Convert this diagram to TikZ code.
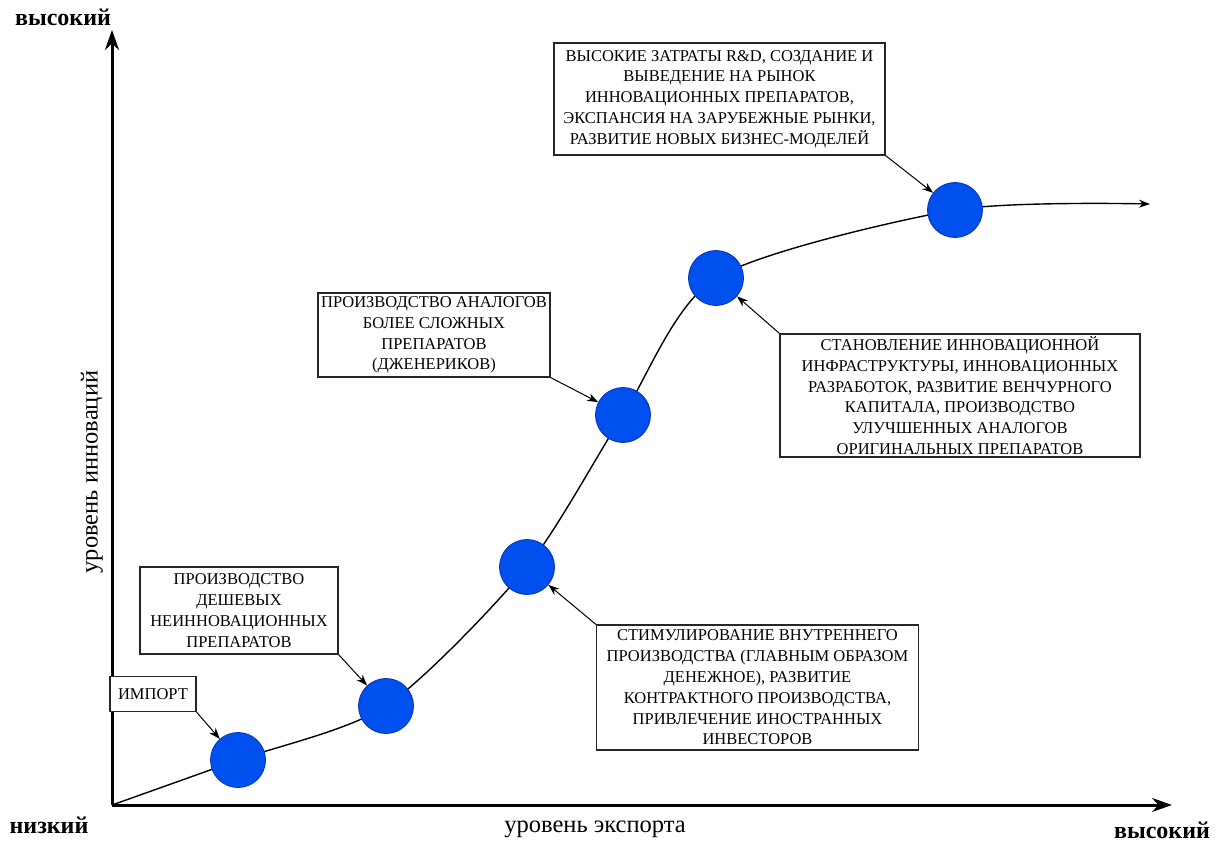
\documentclass[tikz,border=0pt]{standalone}
\usepackage{fontspec}
\setmainfont{Liberation Serif}
\usetikzlibrary{arrows.meta}
\definecolor{dotblue}{RGB}{0,80,239}
\definecolor{dotedge}{RGB}{0,50,170}
\begin{document}
\begin{tikzpicture}[x=1pt,y=-1pt,
  dot/.style={circle,fill=dotblue,draw=dotedge,line width=0.8pt,minimum size=55pt,inner sep=0pt},
  tbox/.style={draw=black!85,line width=1.1pt,fill=white,align=center,inner sep=0pt,
    font=\fontsize{16.5}{20.8}\selectfont},
  pointer/.style={-{Stealth[length=11pt,width=8pt]},line width=1pt},
  axis/.style={line width=3pt,-{Stealth[length=20pt,width=14pt]}},
  axlabel/.style={font=\fontsize{24.5}{26}\selectfont},
  endlabel/.style={font=\bfseries\fontsize{24}{26}\selectfont}]
\useasboundingbox (0,0) rectangle (1224,845);
% axes
\coordinate (o) at (112,805);
\coordinate (ytip) at (112,30);
\coordinate (xtip) at (1172,805);
\draw[axis] (o) -- (ytip);
\draw[axis] (o) -- (xtip);
% dots positions
\coordinate (p1) at (238,760);
\coordinate (p2) at (386,706);
\coordinate (p3) at (527,567);
\coordinate (p4) at (623,415);
\coordinate (p5) at (716,278);
\coordinate (p6) at (955,210);
\coordinate (cend) at (1150,204);
% curve
\draw[line width=1.4pt,-{Stealth[length=11pt,width=8pt]}] plot[smooth,tension=0.45] coordinates {(o) (p1) (p2) (p3) (p4) (p5) (p6) (cend)};
% dots
\node[dot] (c1) at (p1) {};
\node[dot] (c2) at (p2) {};
\node[dot] (c3) at (p3) {};
\node[dot] (c4) at (p4) {};
\node[dot] (c5) at (p5) {};
\node[dot] (c6) at (p6) {};
% boxes
\node[tbox,minimum width=86pt,minimum height=35pt] (b1) at (153,694) {ИМПОРТ};
\node[tbox,minimum width=198pt,minimum height=87pt] (b2) at (239,610.5) {ПРОИЗВОДСТВО\\ДЕШЕВЫХ\\НЕИННОВАЦИОННЫХ\\ПРЕПАРАТОВ};
\node[tbox,minimum width=322pt,minimum height=125pt] (b3) at (757.5,687.5) {СТИМУЛИРОВАНИЕ ВНУТРЕННЕГО\\ПРОИЗВОДСТВА (ГЛАВНЫМ ОБРАЗОМ\\ДЕНЕЖНОЕ), РАЗВИТИЕ\\КОНТРАКТНОГО ПРОИЗВОДСТВА,\\ПРИВЛЕЧЕНИЕ ИНОСТРАННЫХ\\ИНВЕСТОРОВ};
\node[tbox,minimum width=232pt,minimum height=84pt] (b4) at (434,335) {ПРОИЗВОДСТВО АНАЛОГОВ\\БОЛЕЕ СЛОЖНЫХ\\ПРЕПАРАТОВ\\(ДЖЕНЕРИКОВ)};
\node[tbox,minimum width=360pt,minimum height=123pt] (b5) at (960,395.5) {СТАНОВЛЕНИЕ ИННОВАЦИОННОЙ\\ИНФРАСТРУКТУРЫ, ИННОВАЦИОННЫХ\\РАЗРАБОТОК, РАЗВИТИЕ ВЕНЧУРНОГО\\КАПИТАЛА, ПРОИЗВОДСТВО\\УЛУЧШЕННЫХ АНАЛОГОВ\\ОРИГИНАЛЬНЫХ ПРЕПАРАТОВ};
\node[tbox,minimum width=331pt,minimum height=112pt] (b6) at (719.5,99) {ВЫСОКИЕ ЗАТРАТЫ R\&D, СОЗДАНИЕ И\\ВЫВЕДЕНИЕ НА РЫНОК\\ИННОВАЦИОННЫХ ПРЕПАРАТОВ,\\ЭКСПАНСИЯ НА ЗАРУБЕЖНЫЕ РЫНКИ,\\РАЗВИТИЕ НОВЫХ БИЗНЕС-МОДЕЛЕЙ};
% pointers
\draw[pointer] (b1.south east) -- (c1);
\draw[pointer] (b2.south east) -- (c2);
\draw[pointer] (b3.north west) -- (c3);
\draw[pointer] (b4.south east) -- (c4);
\draw[pointer] (b5.north west) -- (c5);
\draw[pointer] (b6.south east) -- (c6);
% labels
\node[endlabel] (hiy) at (63,17) {высокий};
\node[endlabel] (lo) at (49,825) {низкий};
\node[endlabel] (hix) at (1162,830) {высокий};
\node[axlabel] (xl) at (595,829) {уровень экспорта};
\node[axlabel,rotate=90] (yl) at (92,472) {уровень инноваций};
\end{tikzpicture}
\end{document}
